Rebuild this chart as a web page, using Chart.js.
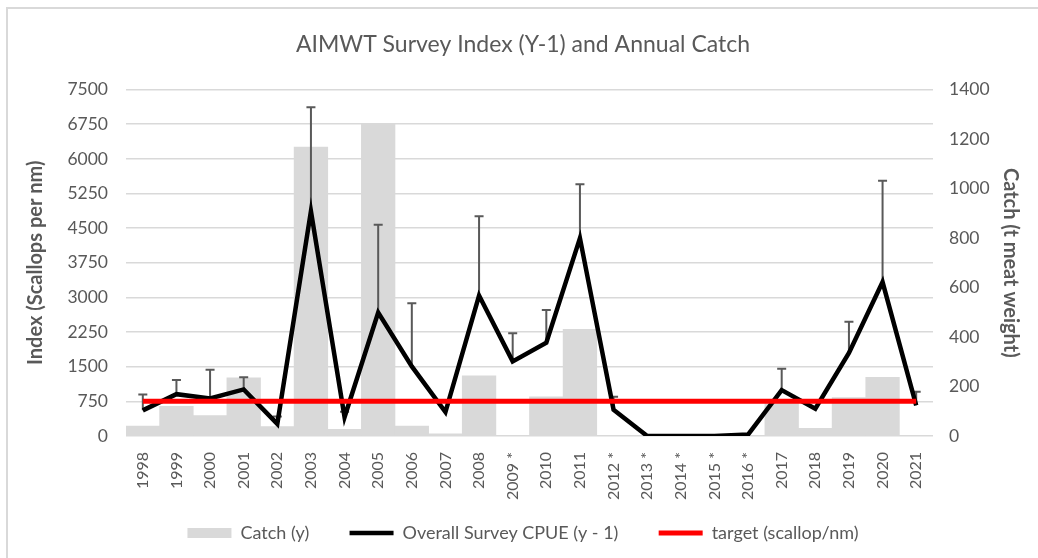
<!DOCTYPE html>
<html>
<head>
<meta charset="utf-8">
<script src="https://cdn.jsdelivr.net/npm/chart.js@4.4.0/dist/chart.umd.min.js"></script>
<style>
  html, body { margin: 0; padding: 0; background: #fff; overflow: hidden; }
  #wrap { position: relative; width: 1038px; height: 558px; }
  #frame { position: absolute; left: 6px; top: 7px; width: 1100px; height: 600px;
           border-left: 2px solid #d9d9d9; border-top: 2px solid #d9d9d9; }
  canvas { position: absolute; left: 0; top: 0; }
</style>
</head>
<body>
<div id="wrap">
  <div id="frame"></div>
  <canvas id="chart" width="1038" height="558"></canvas>
</div>
<script>
// values
const years = ['1998', '1999', '2000', '2001', '2002', '2003', '2004', '2005', '2006', '2007', '2008', '2009 *',
               '2010', '2011', '2012 *', '2013 *', '2014 *', '2015 *', '2016 *', '2017', '2018', '2019', '2020', '2021'];
const catchT = [40, 120, 83, 235, 38, 1168, 27, 1264, 40, 9, 243, 0,
                158, 431, 0, 0, 0, 0, 0, 145, 31, 155, 237, 0];
const surveyCpue = [555, 906, 811, 1009, 263, 4868, 410, 2675, 1506, 519, 3041, 1616,
                    2018, 4284, 570, 0, 0, 0, 30, 994, 592, 1798, 3333, 665];
const cpueUpper = [899, 1213, 1432, 1272, 420, 7120, 526, 4576, 2873, null, 4759, 2222,
                   2726, 5453, 848, null, null, null, null, 1454, null, 2471, 5526, 958];
const target = [750, 750, 750, 750, 750, 750, 750, 750, 750, 750, 750, 750,
                750, 750, 750, 750, 750, 750, 750, 750, 750, 750, 750, 750];

const grey = '#595959';
const font = 'Lato, "Open Sans", sans-serif';

// upper error bars on the survey line, drawn right after the catch bars
const errorBars = {
    id: 'errorBars',
    afterDatasetDraw(chart, args) {
        if (args.index !== 0) return;
        const ctx = chart.ctx;
        const x = chart.scales.x;
        const y = chart.scales.y;
        ctx.save();
        ctx.strokeStyle = grey;
        ctx.lineWidth = 2;
        cpueUpper.forEach((hi, i) => {
            if (hi == null) return;
            const px = x.getPixelForValue(i);
            const y0 = y.getPixelForValue(surveyCpue[i]);
            const y1 = y.getPixelForValue(hi);
            ctx.beginPath();
            ctx.moveTo(px, y0);
            ctx.lineTo(px, y1);
            ctx.moveTo(px - 4.5, y1);
            ctx.lineTo(px + 4.5, y1);
            ctx.stroke();
        });
        ctx.restore();
    }
};

new Chart(document.getElementById('chart'), {
    data: {
        labels: years,
        datasets: [{
            type: 'bar',
            label: 'Catch (y)',
            data: catchT,
            yAxisID: 'y1',
            backgroundColor: '#d9d9d9',
            borderWidth: 0,
            barPercentage: 1,
            categoryPercentage: 1,
            pointStyle: 'rect',
            order: 3
        }, {
            type: 'line',
            label: 'Overall Survey CPUE (y - 1)',
            data: surveyCpue,
            yAxisID: 'y',
            borderColor: '#000000',
            backgroundColor: '#000000',
            borderWidth: 4.5,
            pointRadius: 0,
            pointStyle: 'line',
            tension: 0,
            order: 2
        }, {
            type: 'line',
            label: 'target (scallop/nm)',
            data: target,
            yAxisID: 'y',
            borderColor: '#ff0000',
            backgroundColor: '#ff0000',
            borderWidth: 5,
            pointRadius: 0,
            pointStyle: 'line',
            order: 1
        }]
    },
    options: {
        responsive: false,
        animation: false,
        layout: {
            padding: { left: 20, right: 12, top: 8, bottom: 6 }
        },
        plugins: {
            title: {
                display: true,
                text: 'AIMWT Survey Index (Y-1) and Annual Catch',
                color: grey,
                font: { family: font, size: 23, weight: 'normal' },
                padding: { top: 23, bottom: 31 }
            },
            legend: {
                position: 'bottom',
                labels: {
                    usePointStyle: true,
                    pointStyleWidth: 44,
                    boxHeight: 10,
                    color: grey,
                    font: { family: font, size: 18 },
                    padding: 8,
                    sort: (a, b) => a.datasetIndex - b.datasetIndex,
                    // wider gaps between entries without a taller legend box
                    generateLabels(chart) {
                        const items = Chart.defaults.plugins.legend.labels.generateLabels(chart);
                        items.forEach((it) => {
                            if (it.datasetIndex < 2) it.text += '       ';
                        });
                        return items;
                    }
                }
            },
            tooltip: { enabled: false }
        },
        scales: {
            x: {
                grid: { display: false },
                border: { display: false },
                ticks: {
                    autoSkip: false,
                    maxRotation: 90,
                    minRotation: 90,
                    color: grey,
                    padding: 8,
                    font: { family: font, size: 16 }
                },
                afterFit(scale) { scale.height = 80; }
            },
            y: {
                position: 'left',
                min: 0,
                max: 7500,
                grid: { color: '#d9d9d9', lineWidth: 1.5, drawTicks: false },
                border: { display: false },
                ticks: {
                    stepSize: 750,
                    color: grey,
                    padding: 18,
                    font: { family: font, size: 17.5 },
                    callback: (v) => String(v)
                },
                title: {
                    display: true,
                    text: 'Index (Scallops per nm)',
                    color: grey,
                    font: { family: font, size: 20, weight: 'bold' }
                },
                afterFit(scale) { scale.width = 106; }
            },
            y1: {
                position: 'right',
                min: 0,
                max: 1400,
                grid: { drawOnChartArea: false, drawTicks: false },
                border: { display: false },
                ticks: {
                    stepSize: 200,
                    color: grey,
                    padding: 16,
                    font: { family: font, size: 17.5 },
                    callback: (v) => String(v)
                },
                title: {
                    display: true,
                    text: 'Catch (t meat weight)',
                    color: grey,
                    font: { family: font, size: 20, weight: 'bold' }
                },
                afterFit(scale) { scale.width = 93; }
            }
        }
    },
    plugins: [errorBars]
});
</script>
</body>
</html>
